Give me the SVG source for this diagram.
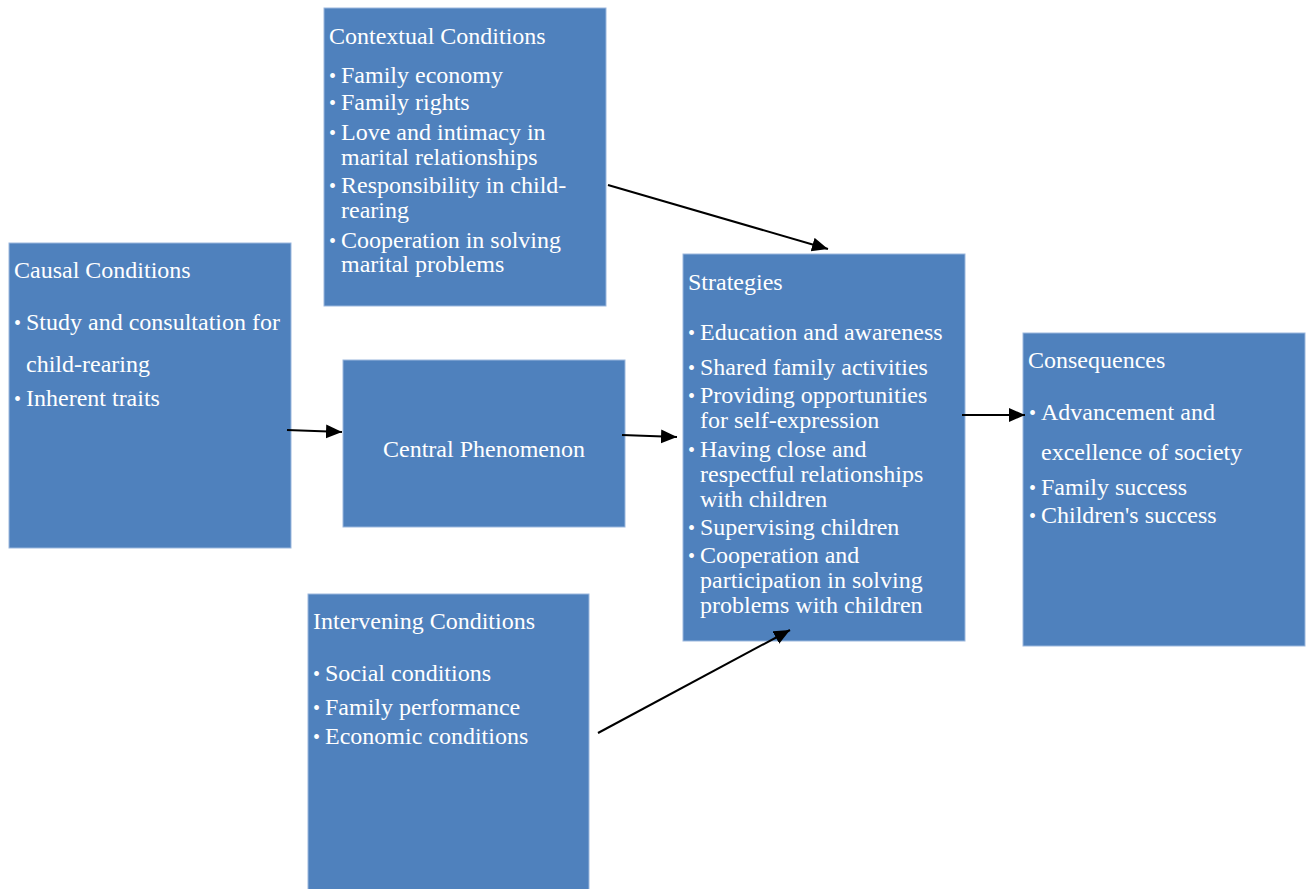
<svg xmlns="http://www.w3.org/2000/svg" width="1306" height="889" viewBox="0 0 1306 889">
<defs>
<style>
.box{fill:#4F81BD;stroke:#9BB7DD;stroke-width:1}
.t{font-family:"Liberation Serif","Times New Roman",serif;font-size:24px;fill:#FFFFFF}
.b{font-family:"Liberation Serif","Times New Roman",serif;font-size:20px;fill:#FFFFFF}
.edge{stroke:#000;stroke-width:2;fill:none;marker-end:url(#ah)}
</style>
<marker id="ah" markerUnits="userSpaceOnUse" markerWidth="18" markerHeight="16" refX="16" refY="7" orient="auto">
<path d="M0,0 L16,7 L0,14 z" fill="#000"/>
</marker>
</defs>
<rect width="1306" height="889" fill="#FFFFFF"/>

<g id="contextual">
<rect class="box" x="324" y="8" width="282" height="298"/>
<text class="t" x="329" y="44">Contextual Conditions</text>
<text class="b" x="329" y="83">•</text><text class="t" x="341" y="83">Family economy</text>
<text class="b" x="329" y="110">•</text><text class="t" x="341" y="110">Family rights</text>
<text class="b" x="329" y="140">•</text><text class="t" x="341" y="140">Love and intimacy in</text>
<text class="t" x="341" y="165">marital relationships</text>
<text class="b" x="329" y="193">•</text><text class="t" x="341" y="193">Responsibility in child-</text>
<text class="t" x="341" y="218">rearing</text>
<text class="b" x="329" y="248">•</text><text class="t" x="341" y="248">Cooperation in solving</text>
<text class="t" x="341" y="272">marital problems</text>
</g>

<g id="causal">
<rect class="box" x="9" y="243" width="282" height="305"/>
<text class="t" x="14" y="278">Causal Conditions</text>
<text class="b" x="14" y="330">•</text><text class="t" x="26" y="330">Study and consultation for</text>
<text class="t" x="26" y="372">child-rearing</text>
<text class="b" x="14" y="406">•</text><text class="t" x="26" y="406">Inherent traits</text>
</g>

<g id="central">
<rect class="box" x="343" y="360" width="282" height="167"/>
<text class="t" x="484" y="457" text-anchor="middle">Central Phenomenon</text>
</g>

<g id="strategies">
<rect class="box" x="683" y="254" width="282" height="387"/>
<text class="t" x="688" y="290">Strategies</text>
<text class="b" x="688" y="340">•</text><text class="t" x="700" y="340">Education and awareness</text>
<text class="b" x="688" y="375">•</text><text class="t" x="700" y="375">Shared family activities</text>
<text class="b" x="688" y="403">•</text><text class="t" x="700" y="403">Providing opportunities</text>
<text class="t" x="700" y="428">for self-expression</text>
<text class="b" x="688" y="457">•</text><text class="t" x="700" y="457">Having close and</text>
<text class="t" x="700" y="482">respectful relationships</text>
<text class="t" x="700" y="507">with children</text>
<text class="b" x="688" y="535">•</text><text class="t" x="700" y="535">Supervising children</text>
<text class="b" x="688" y="563">•</text><text class="t" x="700" y="563">Cooperation and</text>
<text class="t" x="700" y="588">participation in solving</text>
<text class="t" x="700" y="613">problems with children</text>
</g>

<g id="consequences">
<rect class="box" x="1023" y="333" width="282" height="313"/>
<text class="t" x="1028" y="368">Consequences</text>
<text class="b" x="1029" y="420">•</text><text class="t" x="1041" y="420">Advancement and</text>
<text class="t" x="1041" y="460">excellence of society</text>
<text class="b" x="1029" y="495">•</text><text class="t" x="1041" y="495">Family success</text>
<text class="b" x="1029" y="523">•</text><text class="t" x="1041" y="523">Children's success</text>
</g>

<g id="intervening">
<rect class="box" x="308" y="594" width="281" height="300"/>
<text class="t" x="313" y="629">Intervening Conditions</text>
<text class="b" x="313" y="681">•</text><text class="t" x="325" y="681">Social conditions</text>
<text class="b" x="313" y="715">•</text><text class="t" x="325" y="715">Family performance</text>
<text class="b" x="313" y="744">•</text><text class="t" x="325" y="744">Economic conditions</text>
</g>

<g id="connectors">
<line class="edge" x1="608" y1="185" x2="828" y2="249"/>
<line class="edge" x1="287" y1="430" x2="342" y2="432"/>
<line class="edge" x1="622" y1="435" x2="677" y2="437"/>
<line class="edge" x1="598" y1="733" x2="790" y2="630"/>
<line class="edge" x1="962" y1="415" x2="1025" y2="415"/>
</g>
</svg>
